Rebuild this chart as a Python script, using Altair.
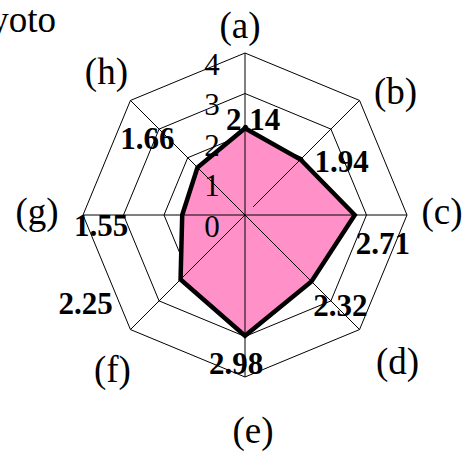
import altair as alt
import numpy as np
import pandas as pd

# ---- data -------------------------------------------------------------
categories = ["(a)", "(b)", "(c)", "(d)", "(e)", "(f)", "(g)", "(h)"]
values = [2.14, 1.94, 2.71, 2.32, 2.98, 2.25, 1.55, 1.66]
value_labels = ["2.14", "1.94", "2.71", "2.32", "2.98", "2.25", "1.55", "1.66"]
ring_levels = [1, 2, 3, 4]
tick_values = [0, 1, 2, 3, 4]
tick_labels = ["0", "1", "2", "3", "4"]
title_text = "Kyoto"

# ---- layout / style ---------------------------------------------------
W, H = 469, 452
PX = 40.5            # pixels per radial unit
CX, CY = 245, 215    # centre of the radar in pixels
PINK = "#ff91c8"
FONT = "Liberation Serif"

# label nudges in pixels (right, down)
cat_offsets = [(-5, -26), (36, -7), (35, -2), (38, 33), (8, 55), (-18, 41), (-46, -2), (-24, -27)]
val_offsets = [(8, -7), (41, 4), (28, 30), (29, 26), (-9, 29), (-95, 26), (-81, 12), (-50, -27)]
spoke_start = [0, 0.28, 0, 0, 0, 0, 0, 0]

angles = [np.pi / 2 - i * np.pi / 4 for i in range(len(categories))]
cos = np.cos(angles)
sin = np.sin(angles)

x_scale = alt.Scale(domain=[-CX / PX, (W - CX) / PX], nice=False, zero=False)
y_scale = alt.Scale(domain=[-(H - CY) / PX, CY / PX], nice=False, zero=False)


def X(field):
    return alt.X(field, type="quantitative", scale=x_scale, axis=None)


def Y(field):
    return alt.Y(field, type="quantitative", scale=y_scale, axis=None)


# concentric octagons
rings = pd.DataFrame(
    [
        {"level": lv, "idx": i, "x": lv * cos[i], "y": lv * sin[i]}
        for lv in ring_levels
        for i in range(len(categories))
    ]
)
ring_layer = (
    alt.Chart(rings)
    .mark_line(interpolate="linear-closed", color="black", strokeWidth=1)
    .encode(x=X("x"), y=Y("y"), detail="level:N", order="idx:Q")
)

# spokes
spokes = pd.DataFrame(
    {
        "x": [s * c for s, c in zip(spoke_start, cos)],
        "y": [s * v for s, v in zip(spoke_start, sin)],
        "x2": 4 * cos,
        "y2": 4 * sin,
    }
)
spoke_layer = (
    alt.Chart(spokes)
    .mark_rule(color="black", strokeWidth=1)
    .encode(x=X("x"), y=Y("y"), x2="x2", y2="y2")
)

# data polygon
poly = pd.DataFrame(
    {
        "idx": list(range(len(categories))),
        "cat": categories,
        "x": np.array(values) * cos,
        "y": np.array(values) * sin,
    }
)
fill_layer = (
    alt.Chart(poly)
    .mark_line(interpolate="linear-closed", fill=PINK, stroke=PINK, strokeWidth=0.5)
    .encode(x=X("x"), y=Y("y"), order="idx:Q")
)
outline_layer = (
    alt.Chart(poly)
    .mark_line(interpolate="linear-closed", color="black", strokeWidth=4.5, strokeJoin="miter")
    .encode(x=X("x"), y=Y("y"), order="idx:Q")
)

# value labels
vlab = pd.DataFrame(
    {
        "text": value_labels,
        "x": [v * c + o[0] / PX for v, c, o in zip(values, cos, val_offsets)],
        "y": [v * s - o[1] / PX for v, s, o in zip(values, sin, val_offsets)],
    }
)
vlab_layer = (
    alt.Chart(vlab)
    .mark_text(font=FONT, fontSize=31, fontWeight="bold", align="center", baseline="middle", color="black")
    .encode(x=X("x"), y=Y("y"), text="text:N")
)

# category labels
clab = pd.DataFrame(
    {
        "text": categories,
        "x": [4 * c + o[0] / PX for c, o in zip(cos, cat_offsets)],
        "y": [4 * s - o[1] / PX for s, o in zip(sin, cat_offsets)],
    }
)
clab_layer = (
    alt.Chart(clab)
    .mark_text(font=FONT, fontSize=37, align="center", baseline="middle", color="black")
    .encode(x=X("x"), y=Y("y"), text="text:N")
)

# radial tick labels
ticks = pd.DataFrame(
    {
        "text": tick_labels,
        "x": [-33 / PX] * len(tick_values),
        "y": [t - 0.32 for t in tick_values],
    }
)
tick_layer = (
    alt.Chart(ticks)
    .mark_text(font=FONT, fontSize=31, align="center", baseline="middle", color="black")
    .encode(x=X("x"), y=Y("y"), text="text:N")
)

title_layer = (
    alt.Chart(pd.DataFrame({"t": [title_text]}))
    .mark_text(font=FONT, fontSize=37, align="right", baseline="middle", color="black")
    .encode(x=alt.value(56), y=alt.value(21), text="t:N")
)

chart = (
    alt.layer(
        ring_layer,
        fill_layer,
        spoke_layer,
        outline_layer,
        tick_layer,
        vlab_layer,
        clab_layer,
        title_layer,
    )
    .properties(width=W, height=H, padding=0, autosize=alt.AutoSizeParams(type="none"), background="white")
    .configure_view(stroke=None)
)

chart.save("out.html", embed_options={"renderer": "svg", "actions": False})
